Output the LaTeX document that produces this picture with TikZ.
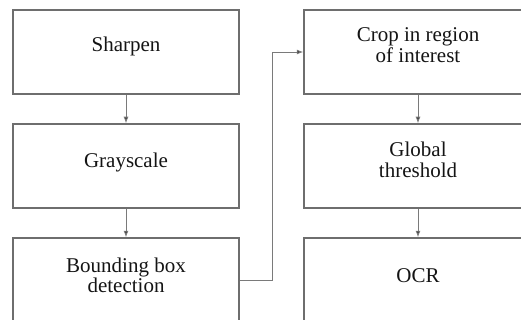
\documentclass[tikz,border=0pt]{standalone}
\usepackage{fontspec}
\setmainfont{Liberation Serif}
\usetikzlibrary{arrows.meta}
\definecolor{boxgray}{HTML}{6E6E6E}
\definecolor{linegray}{HTML}{7A7A7A}
\definecolor{arrgray}{HTML}{2E2E2E}
\begin{document}
\begin{tikzpicture}[x=1pt,y=-1pt,
  box/.style={draw=boxgray,line width=1.5pt,minimum width=226pt,minimum height=84pt,inner sep=0pt},
  rbox/.style={box,minimum width=228pt},
  lbl/.style={font=\fontsize{21}{20.5}\selectfont,align=center,inner sep=0pt,text=black!92},
  arr/.style={draw=linegray,line width=0.9pt,-{Latex[length=6.5pt,width=5pt,fill=arrgray]}},
]
\useasboundingbox (0,0) rectangle (521,320);
\clip (0,0) rectangle (521,320);
% left column
\node[box] (sharpen) at (126,52) {};
\node[box] (gray) at (126,166) {};
\node[box] (bbox) at (126,280) {};
% right column
\node[rbox] (crop) at (418,52) {};
\node[rbox] (glob) at (418,166) {};
\node[rbox] (ocr) at (418,280) {};
% labels
\node[lbl] (sharpenT) at ([yshift=6pt]sharpen.center) {Sharpen};
\node[lbl] (grayT) at ([yshift=4pt]gray.center) {Grayscale};
\node[lbl] (bboxT) at ([yshift=4.5pt]bbox.center) {Bounding box\\detection};
\node[lbl] (cropT) at ([yshift=7pt]crop.center) {Crop in region\\of interest};
\node[lbl] (globT) at ([yshift=6pt]glob.center) {Global\\threshold};
\node[lbl] (ocrT) at ([yshift=4pt]ocr.center) {OCR};
% connectors
\draw[arr] (sharpen.south) -- (gray.north);
\draw[arr] (gray.south) -- (bbox.north);
\draw[arr] (crop.south) -- (glob.north);
\draw[arr] (glob.south) -- (ocr.north);
\draw[arr] (bbox.east) -- ++(33,0) |- (crop.west);
\end{tikzpicture}
\end{document}
